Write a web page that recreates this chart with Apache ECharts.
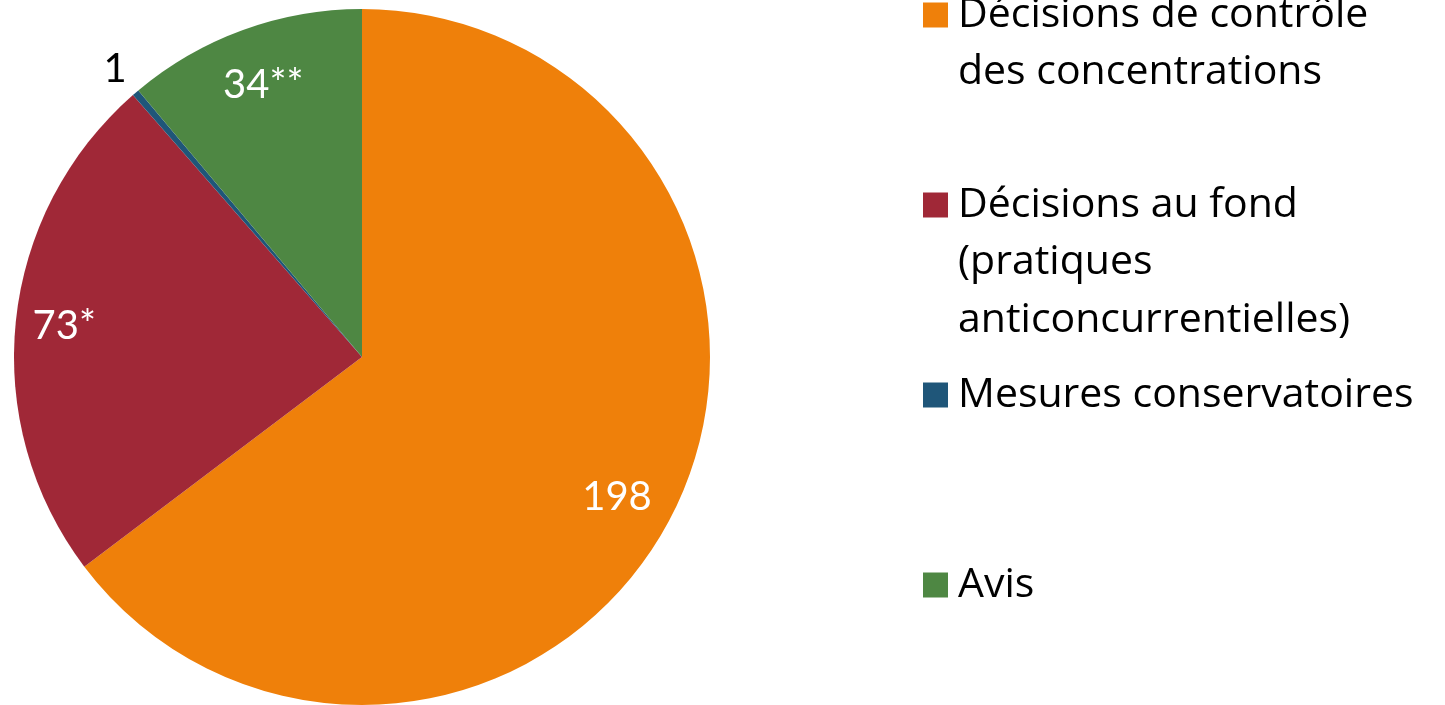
<!DOCTYPE html>
<html><head><meta charset="utf-8">
<script src="https://cdn.jsdelivr.net/npm/echarts@6/dist/echarts.min.js"></script>
<style>html,body{margin:0;padding:0;background:#fff}#c{width:1445px;height:705px}</style>
</head><body><div id="c"></div>
<script>
// ---- data ----
const categories = [
  'Décisions de contrôle des concentrations',
  'Décisions au fond (pratiques anticoncurrentielles)',
  'Mesures conservatoires',
  'Avis'
];
const legendLines = [
  ['Décisions de contrôle', 'des concentrations'],
  ['Décisions au fond', '(pratiques', 'anticoncurrentielles)'],
  ['Mesures conservatoires'],
  ['Avis']
];
const values = [198, 73, 1, 34];
const valueLabels = ['198', '73*', '1', '34**'];

// ---- style ----
const colors = ['#EF800A', '#A02837', '#1F5679', '#4E8743'];
const labelColors = ['#ffffff', '#ffffff', '#000000', '#ffffff'];
const labelRadius = [0.836, 0.86, 1.09, 0.83];
const labelAngleShift = [2.3, 0, 0, 0]; // degrees, clockwise
const CENTER = [362, 357];
const R = 348;
const FONT = 'Lato';
const LEGEND_FONT = 'Open Sans';
const FS = 40;
const LFS = 41;
const LH = 57.5;
const legendIconCenters = [15, 205, 395, 585];

const chart = echarts.init(document.getElementById('c'), null, {renderer: 'canvas'});

const legends = categories.map((name, i) => {
  const n = legendLines[i].length;
  const blockH = (2 * n - 1) * LH;
  return {
    data: [name],
    orient: 'vertical',
    left: 923,
    top: legendIconCenters[i] - blockH / 2,
    padding: 0,
    itemWidth: 25,
    itemHeight: 25,
    icon: 'rect',
    selectedMode: false,
    formatter: function () {
      const pre = new Array(n - 1).fill('').join('\n');
      return (n > 1 ? pre + '\n' : '') + legendLines[i].join('\n');
    },
    textStyle: {
      fontFamily: LEGEND_FONT,
      fontSize: LFS,
      lineHeight: LH,
      color: '#000',
      padding: [0, 0, 0, 5]
    }
  };
});

chart.setOption({
  animation: false,
  color: colors,
  legend: legends,
  series: [{
    type: 'pie',
    center: CENTER,
    radius: [0, R],
    startAngle: 90,
    clockwise: true,
    avoidLabelOverlap: false,
    itemStyle: {borderWidth: 0},
    emphasis: {disabled: true},
    label: {
      show: true,
      position: 'inside',
      fontFamily: FONT,
      fontSize: FS,
      formatter: p => valueLabels[p.dataIndex]
    },
    labelLine: {show: false},
    labelLayout: function (p) {
      const k = labelRadius[p.dataIndex];
      const a = labelAngleShift[p.dataIndex] * Math.PI / 180;
      const lx = p.labelRect.x + p.labelRect.width / 2;
      const ly = p.labelRect.y + p.labelRect.height / 2;
      const vx = lx - CENTER[0], vy = ly - CENTER[1];
      const d = Math.hypot(vx, vy) || 1;
      const ux = vx / d, uy = vy / d;
      const rx = ux * Math.cos(a) - uy * Math.sin(a);
      const ry = ux * Math.sin(a) + uy * Math.cos(a);
      return {dx: rx * k * R - vx, dy: ry * k * R - vy};
    },
    data: categories.map((name, i) => ({
      name: name,
      value: values[i],
      label: {color: labelColors[i]}
    }))
  }]
});
</script>
</body></html>
